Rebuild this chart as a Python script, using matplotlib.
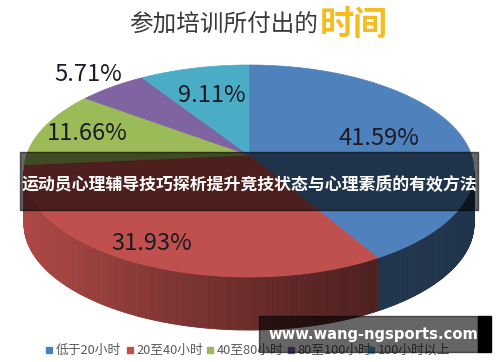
import numpy as np
import matplotlib
matplotlib.use("Agg")
import matplotlib.pyplot as plt
from matplotlib.patches import Polygon, Rectangle
from matplotlib.collections import PolyCollection
from matplotlib.colors import to_rgb

plt.rcParams['font.family'] = ['Noto Sans CJK SC', 'DejaVu Sans']

# data
categories = ['低于20小时', '20至40小时', '40至80小时', '80至100小时', '100小时以上']
shares = [41.59, 31.93, 11.66, 5.71, 9.11]
colors = ['#4F81BD', '#C0504D', '#9BBB59', '#8064A2', '#4BACC6']
title_main = '参加培训所付出的'
title_accent = '时间'
banner_text = '运动员心理辅导技巧探析提升竞技状态与心理素质的有效方法'
watermark = 'www.wang-ngsports.com'

# layout of the fake 3d pie (pixels, y down)
CX, CY = 249, 155        # projected centre of the disc
A, B = 222.4, 103.6      # half axes
K = 0.151                # perspective strength
DEPTH = 53
label_r = [0.62, 0.85, 0.78, 1.2, 0.65]


def project(theta_deg, r=1.0):
    t = np.radians(theta_deg)
    u = r * np.sin(t)
    v = r * np.cos(t)
    d = 1 + K * v
    return CX + A * u / d, CY - B * v / d


fig = plt.figure(figsize=(5, 3.62), dpi=100)
ax = fig.add_axes([0, 0, 1, 1])
ax.set_xlim(0, 500)
ax.set_ylim(362, 0)
ax.axis('off')

# wedge angles, clockwise from 12 o'clock
bounds = np.concatenate([[0], np.cumsum(shares)]) / sum(shares) * 360

# sides (front part only)
th_lo = np.degrees(np.arccos(-K))
th_hi = 360 - th_lo
x_split = project(bounds[1])[0]
x_left = project(270)[0]
quads, qcols = [], []
for i, c in enumerate(colors):
    a0, a1 = max(bounds[i], th_lo), min(bounds[i + 1], th_hi)
    if a1 <= a0:
        continue
    th = np.linspace(a0, a1, int((a1 - a0) / 0.5) + 2)
    xs, ys = project(th)
    base = np.array(to_rgb(c))
    for j in range(len(th) - 1):
        quads.append([(xs[j], ys[j]), (xs[j + 1], ys[j + 1]),
                      (xs[j + 1], ys[j + 1] + DEPTH), (xs[j], ys[j] + DEPTH)])
        xm = 0.5 * (xs[j] + xs[j + 1])
        t = np.clip((x_split - xm) / (x_split - x_left), 0, 1)
        shade = 0.4 + 0.5 * t ** 1.2
        qcols.append(tuple(base * shade))
ax.add_collection(PolyCollection(quads, facecolors=qcols, edgecolors=qcols,
                                 linewidths=0.6, zorder=1))

# top faces
for i, c in enumerate(colors):
    th = np.linspace(bounds[i], bounds[i + 1], 120)
    xs, ys = project(th)
    pts = [(CX, CY)] + list(zip(xs, ys))
    ax.add_patch(Polygon(pts, closed=True, facecolor=c, edgecolor=c,
                         lw=0.5, zorder=2))

# percentage labels
for i, s in enumerate(shares):
    mid = 0.5 * (bounds[i] + bounds[i + 1])
    lx, ly = project(mid, label_r[i])
    ax.text(lx, ly, f'{s:.2f}%', ha='center', va='center', fontsize=17,
            color='#1b1b26', zorder=3)

# title
ax.text(318, 25, title_main, ha='right', va='center', fontsize=17,
        color='#3a3a3a')
ax.text(320, 24, title_accent, ha='left', va='center', fontsize=24.5,
        fontweight='bold', color='#F6BC1C')

# legend
for i, (cat, c) in enumerate(zip(categories, colors)):
    lx = 49 + i * 80.5
    ax.add_patch(Rectangle((lx - 3, 347), 6, 6, color=c, zorder=3))
    ax.text(lx + 7, 350, cat, ha='left', va='center', fontsize=9.2,
            color='#595959', zorder=3)

# dark banner across the chart
ax.add_patch(Rectangle((20, 152), 458, 58, color='black', alpha=0.6, zorder=5))
ax.text(249, 184.5, banner_text, ha='center', va='center', fontsize=12.2,
        fontweight='bold', color='white', zorder=6)

# watermark box
ax.add_patch(Rectangle((259, 316), 219, 36, color='black', alpha=0.6, zorder=5))
ax.add_patch(Rectangle((478, 316), 13, 36, color='black', zorder=5))
ax.text(268, 335, watermark, ha='left', va='center', fontsize=10.6,
        fontweight='bold', color='white', family='DejaVu Sans', zorder=6)

fig.savefig('out.png', dpi=100, facecolor='white')
